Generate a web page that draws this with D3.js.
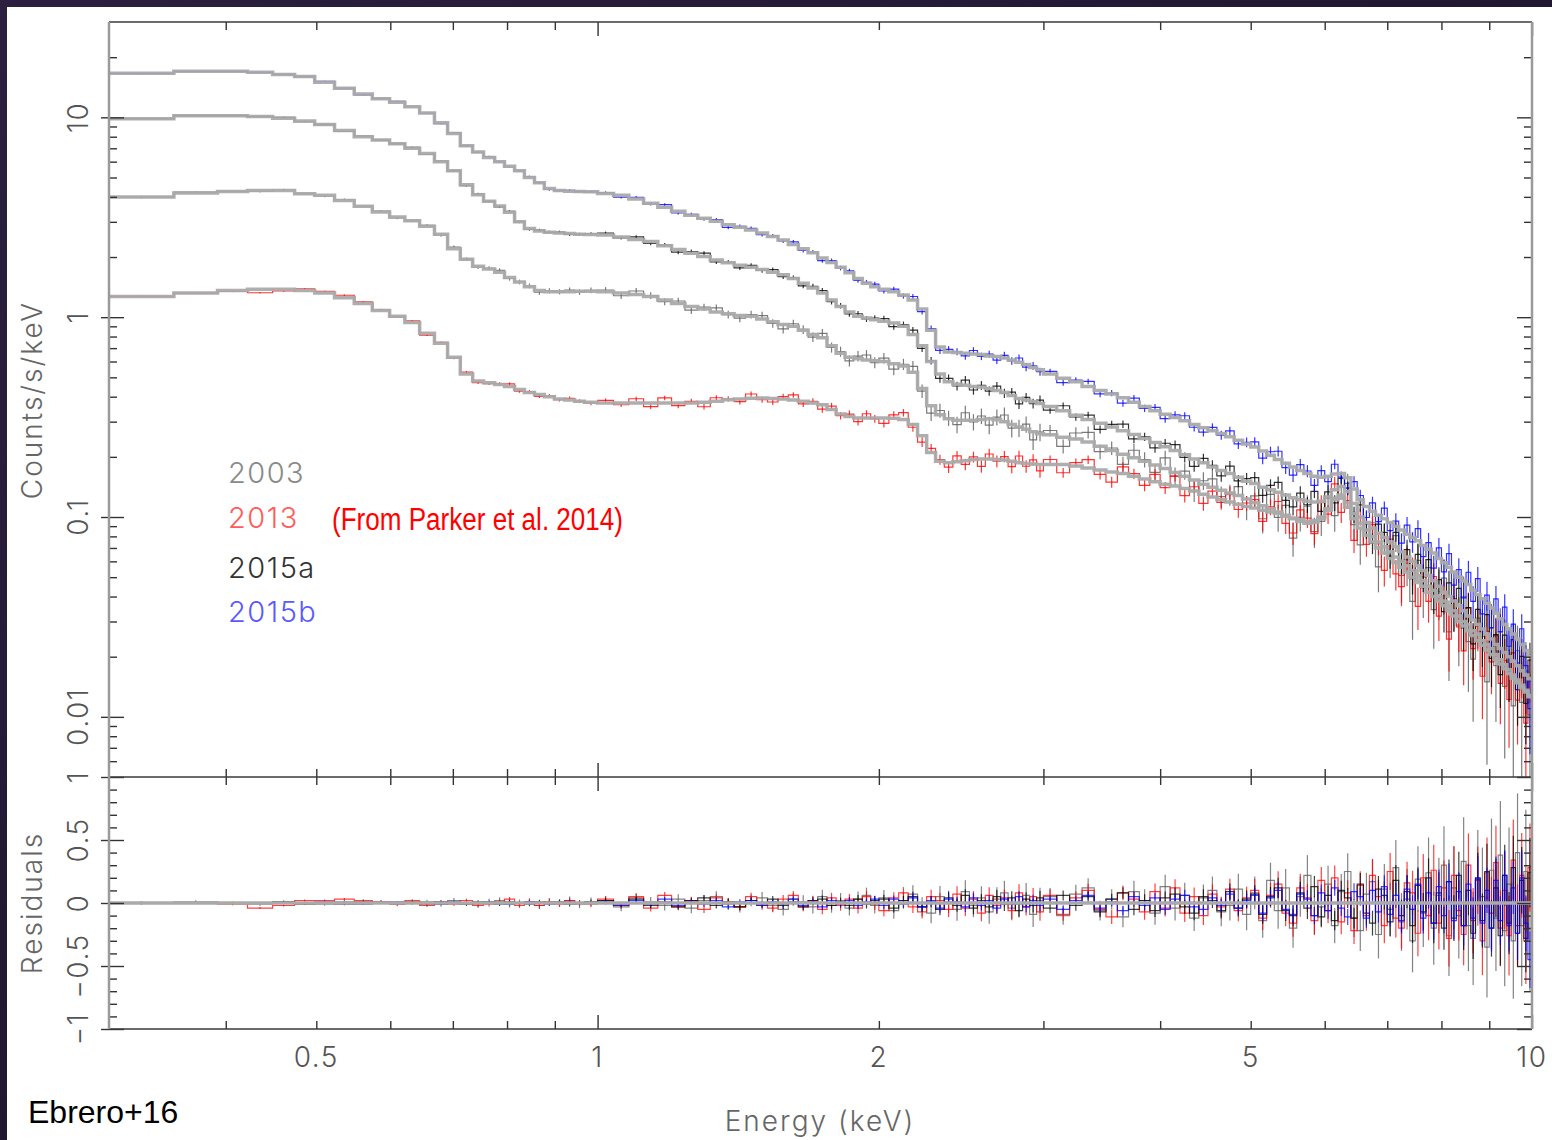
<!DOCTYPE html>
<html>
<head>
<meta charset="utf-8">
<script src="https://cdn.jsdelivr.net/npm/d3@7"></script>
<style>
  html, body { margin: 0; padding: 0; background: #fff; }
  svg { display: block; }
</style>
</head>
<body>
<script>
// energy bin edges (keV), shared by the four spectra
const binEdges = [
  0.30, 0.352, 0.392, 0.422, 0.449, 0.474, 0.498, 0.523, 0.549, 0.574, 0.599, 0.622, 0.645, 0.669, 0.691,
  0.713, 0.735, 0.755, 0.776, 0.795, 0.815, 0.835, 0.856, 0.877, 0.899, 0.922, 0.945, 0.968, 1.00,
  1.04, 1.08, 1.12, 1.16, 1.20, 1.24, 1.28, 1.32, 1.36, 1.40, 1.44, 1.48, 1.52, 1.56, 1.60, 1.64, 1.68,
  1.72, 1.76, 1.80, 1.84, 1.88, 1.92, 1.96, 2.00,
  2.05, 2.10, 2.15, 2.20, 2.25, 2.30, 2.35, 2.40, 2.45, 2.50, 2.55, 2.60, 2.65, 2.70, 2.75, 2.80, 2.85,
  2.90, 2.95, 3.00,
  3.1, 3.2, 3.3, 3.4, 3.5, 3.6, 3.7, 3.8, 3.9, 4.0, 4.1, 4.2, 4.3, 4.4, 4.5, 4.6, 4.7, 4.8, 4.9, 5.0,
  5.1, 5.2, 5.3, 5.4, 5.5, 5.6, 5.7, 5.8, 5.9, 6.0, 6.1, 6.2, 6.3, 6.4, 6.5, 6.6, 6.7, 6.8, 6.9, 7.0,
  7.1, 7.2, 7.3, 7.4, 7.5, 7.6, 7.7, 7.8, 7.9, 8.0, 8.1, 8.2, 8.3, 8.4, 8.5, 8.6, 8.7, 8.8, 8.9, 9.0,
  9.1, 9.2, 9.3, 9.4, 9.5, 9.6, 9.7, 9.8, 9.9, 10.0
];

// best-fit model, counts/s/keV, one value per bin
const model2003 = [
  3.99, 4.18, 4.26, 4.30, 4.30, 4.15, 4.07, 3.84, 3.59, 3.36, 3.17, 3.04, 2.85, 2.60, 2.20, 1.95, 1.80, 1.74,
  1.68, 1.58, 1.50, 1.42, 1.36, 1.34, 1.34, 1.34, 1.35, 1.35,
  1.34, 1.32, 1.30, 1.27, 1.22, 1.17, 1.13, 1.10, 1.06, 1.04, 1.02, 1.01, 0.98, 0.95, 0.92, 0.90, 0.86, 0.82,
  0.79, 0.72, 0.66, 0.63, 0.62, 0.61, 0.605,
  0.60, 0.585, 0.57, 0.53, 0.44, 0.36, 0.325, 0.31, 0.305, 0.305, 0.305, 0.308, 0.31, 0.307, 0.30, 0.29,
  0.282, 0.275, 0.267, 0.261,
  0.258, 0.251, 0.246, 0.237, 0.226, 0.215, 0.206, 0.198, 0.19, 0.182, 0.175, 0.167, 0.16, 0.153, 0.146,
  0.141, 0.136, 0.132, 0.128, 0.123,
  0.118, 0.114, 0.11, 0.106, 0.102, 0.098, 0.095, 0.093, 0.094, 0.098, 0.108, 0.124, 0.129, 0.118, 0.104,
  0.093, 0.086, 0.08, 0.075, 0.071, 0.067, 0.063, 0.06, 0.057, 0.054, 0.051, 0.048, 0.045, 0.043, 0.04,
  0.038, 0.036, 0.034, 0.032, 0.03, 0.029, 0.027, 0.026, 0.024, 0.023, 0.022, 0.0205, 0.0193, 0.0182,
  0.0172, 0.0162, 0.0153, 0.0144, 0.0136, 0.0128
];
const model2013 = [
  1.27, 1.32, 1.36, 1.38, 1.38, 1.36, 1.32, 1.25, 1.17, 1.08, 1.01, 0.94, 0.83, 0.74, 0.63, 0.52, 0.48, 0.47,
  0.46, 0.45, 0.435, 0.42, 0.41, 0.40, 0.39, 0.385, 0.38, 0.375,
  0.372, 0.372, 0.372, 0.372, 0.372, 0.372, 0.372, 0.375, 0.38, 0.386, 0.39, 0.393, 0.394, 0.392, 0.389,
  0.385, 0.38, 0.372, 0.365, 0.345, 0.328, 0.318, 0.313, 0.313, 0.313,
  0.313, 0.312, 0.308, 0.29, 0.255, 0.21, 0.19, 0.187, 0.189, 0.191, 0.194, 0.195, 0.195, 0.194, 0.193,
  0.19, 0.187, 0.185, 0.184, 0.183,
  0.183, 0.183, 0.18, 0.176, 0.172, 0.168, 0.165, 0.16, 0.155, 0.15, 0.146, 0.143, 0.139, 0.135, 0.13,
  0.126, 0.122, 0.119, 0.116, 0.113,
  0.111, 0.108, 0.106, 0.104, 0.101, 0.099, 0.097, 0.095, 0.096, 0.1, 0.11, 0.122, 0.124, 0.112, 0.098,
  0.088, 0.081, 0.075, 0.07, 0.066, 0.062, 0.059, 0.056, 0.053, 0.05, 0.047, 0.045, 0.042, 0.04, 0.038,
  0.036, 0.034, 0.032, 0.03, 0.0285, 0.027, 0.0255, 0.024, 0.0228, 0.0216, 0.0205, 0.0194, 0.0184, 0.0174,
  0.0165, 0.0156, 0.0148, 0.014, 0.0133, 0.0126
];
const model2015a = [
  9.83, 10.2, 10.2, 10.1, 9.9, 9.6, 9.2, 8.6, 8.0, 7.7, 7.37, 7.0, 6.6, 6.0, 5.4, 4.6, 4.1, 3.8, 3.6, 3.35,
  3.0, 2.78, 2.70, 2.66, 2.64, 2.62, 2.60, 2.59,
  2.58, 2.52, 2.45, 2.39, 2.28, 2.18, 2.09, 2.01, 1.93, 1.87, 1.82, 1.78, 1.73, 1.68, 1.63, 1.56, 1.48,
  1.40, 1.32, 1.22, 1.13, 1.06, 1.01, 0.99, 0.97,
  0.955, 0.935, 0.90, 0.82, 0.72, 0.60, 0.52, 0.475, 0.462, 0.457, 0.45, 0.447, 0.44, 0.43, 0.42, 0.405,
  0.392, 0.385, 0.377, 0.37,
  0.357, 0.34, 0.323, 0.308, 0.295, 0.282, 0.27, 0.259, 0.247, 0.236, 0.225, 0.215, 0.205, 0.195, 0.187,
  0.178, 0.171, 0.165, 0.158, 0.151,
  0.147, 0.141, 0.137, 0.133, 0.129, 0.125, 0.122, 0.12, 0.119, 0.12, 0.126, 0.137, 0.142, 0.134, 0.117,
  0.1, 0.094, 0.088, 0.083, 0.079, 0.075, 0.071, 0.067, 0.063, 0.06, 0.057, 0.054, 0.051, 0.048, 0.045,
  0.042, 0.04, 0.038, 0.036, 0.034, 0.032, 0.0305, 0.029, 0.0275, 0.026, 0.0245, 0.023, 0.022, 0.021,
  0.02, 0.019, 0.018, 0.017, 0.0162, 0.0155
];
const model2015b = [
  16.6, 17.0, 17.0, 16.8, 16.4, 16.0, 15.0, 14.0, 13.1, 12.4, 11.9, 11.3, 10.5, 9.4, 8.3, 7.2, 6.7, 6.3,
  6.0, 5.7, 5.4, 5.0, 4.7, 4.4, 4.3, 4.27, 4.25, 4.24,
  4.16, 4.07, 3.90, 3.72, 3.55, 3.39, 3.24, 3.13, 3.02, 2.90, 2.82, 2.73, 2.64, 2.53, 2.43, 2.31, 2.20,
  2.10, 1.98, 1.88, 1.78, 1.67, 1.56, 1.48, 1.42,
  1.38, 1.34, 1.29, 1.22, 1.10, 0.86, 0.71, 0.67, 0.665, 0.66, 0.655, 0.65, 0.64, 0.635, 0.625, 0.61,
  0.595, 0.58, 0.56, 0.545,
  0.52, 0.495, 0.475, 0.45, 0.43, 0.413, 0.395, 0.375, 0.357, 0.34, 0.327, 0.315, 0.303, 0.29, 0.28,
  0.27, 0.262, 0.252, 0.242, 0.232,
  0.224, 0.214, 0.204, 0.194, 0.186, 0.178, 0.171, 0.165, 0.16, 0.158, 0.16, 0.164, 0.165, 0.157, 0.138,
  0.122, 0.113, 0.107, 0.102, 0.098, 0.094, 0.09, 0.086, 0.082, 0.079, 0.076, 0.072, 0.069, 0.066, 0.062,
  0.059, 0.056, 0.053, 0.05, 0.048, 0.046, 0.043, 0.041, 0.039, 0.037, 0.035, 0.033, 0.031, 0.029,
  0.0275, 0.026, 0.0245, 0.023, 0.0215, 0.02
];

// residuals (data - model) / model, in hundredths, one per bin
const resid2003 = [
  0, 1, 0, -1, 1, 0, -1, 1, 0, 1, -1, 0, 1, -1, 2, 0, -1, 1, 2, -1, 0, 1, -2, 1, 0, 2, -1, 1,
  2, -3, 4, 1, -2, 3, -4, 2, 5, -1, -3, 2, 4, -2, -5, 3, 1, -3, 5, -2, 2, -4, 3, 6, -2,
  4, -6, 2, 7, -3, -8, 5, 1, -5, 9, -2, 4, -7, 3, 8, -4, -1, 6, -9, 2,
  5, -10, 7, 12, -6, 3, -11, 9, 2, -8, 13, -4, 6, -12, 4, 10, -7, -2, 11, -9,
  8, -14, 18, -6, 12, -20, 5, 22, -10, -3, 15, -18, 9, 25, -12, -22, 7, 17, -25, 11,
  -5, 28, -15, 3, -30, 19, -8, 24, -20, 6, 30, -26, 12, -10, 33, -18, -28, 20, 5, -35,
  26, -12, 38, -22, 15, -30, 40, -18, 25, -20
];
const resid2013 = [
  0, 0, -1, -4, -2, 2, 2, 3, 2, 1, -1, 2, -2, 1, -1, 2, -2, -1, 1, 3, -2, 1, -2, 1, -1, 2, 0, -1,
  3, -2, 5, -4, 6, -3, 2, -5, 4, 1, -3, 5, -2, -4, 3, 6, -3, 2, -5, 4, -2, 3, -4, 5, -1,
  -6, 4, 8, -3, -7, 5, 2, -5, 7, -4, 3, -8, 6, -2, 4, -6, 8, -3, 5, -7,
  6, -9, 4, 10, -5, -11, 8, 3, -7, 9, -4, 12, -8, 5, -10, 7, -3, 11, -6, 4,
  10, -12, 6, 15, -8, -16, 12, 4, -14, 18, -6, 20, -15, 8, -22, 14, -10, 22, 5, -18,
  25, -12, -20, 16, 8, -24, 20, -10, 26, -16, 12, -28, 22, -6, -25, 30, -14, 18, -30, 24,
  -8, 32, -20, 10, -26, 34, -18, 22, -30, 28
];
const resid2015a = [
  0, 0, 0, 0, 1, -1, 0, -1, 1, 0, 0, 1, -1, 1, 0, -1, 1, 0, -1, 1, 0, -1, 1, 0, 1, -1, 0, 1,
  2, -1, 3, -2, 1, -3, 2, 4, -2, 1, -3, 2, -1, 3, -2, 1, -3, 2, 3, -2, 1, -2, 3, -1, 2,
  3, -4, 2, 5, -3, 1, -5, 4, -2, 6, -4, 2, -3, 5, -1, 4, -6, 3, -2, 4,
  -4, 6, -2, 5, -7, 3, 8, -5, 2, -6, 4, 7, -3, -8, 5, 2, -6, 9, -4, 3,
  7, -9, 5, 12, -6, -10, 8, -4, 13, -11, 6, -14, 10, 4, -12, 15, -8, -16, 11, 6,
  -15, 18, -10, 9, -18, 14, -7, 20, -16, 8, -20, 17, -12, 22, -18, 10, -24, 19, -14, 25,
  -20, 12, -26, 22, -16, 28, -24, 18, -28, 24
];
const resid2015b = [
  0, 0, 0, 0, 0, 0, 1, 0, -1, 0, 1, 0, 0, -1, 1, 0, 0, 1, 0, -1, 0, 1, 0, -1, 0, 1, 0, 0,
  1, -2, 2, -1, 3, -2, 1, -1, 2, -3, 1, 2, -2, 1, -1, 3, -2, 1, -3, 2, -1, 2, -2, 1, 3,
  -2, 3, -1, 4, -3, 2, -4, 3, 1, -3, 4, -2, 2, -4, 3, -1, 5, -3, 2, -2,
  3, -5, 2, 6, -4, 1, -6, 5, -2, 4, -5, 3, 6, -3, -5, 4, -2, 7, -4, 2,
  6, -8, 4, 10, -5, -9, 7, 3, -10, 8, -6, 12, -4, -11, 9, 5, -12, 10, -7, 13,
  -9, 6, -14, 11, -5, 15, -12, 8, -16, 13, -10, 17, -14, 9, -18, 15, -12, 20, -16, 10,
  -20, 18, -14, 22, -18, 12, -24, 20, -16, -45
];

// 1-sigma relative error per bin for the 2003 spectrum (percent)
const relErr = [
  1.5, 1.2, 1.2, 1.2, 1.2, 1.2, 1.2, 1.3, 1.3, 1.4, 1.5, 1.5, 1.6, 1.7, 1.9, 2.1, 2.3, 2.4, 2.5, 2.6,
  2.7, 2.8, 2.9, 3, 3, 3.1, 3.2, 3.3,
  3.5, 3.6, 3.7, 3.8, 3.9, 4, 4.1, 4.2, 4.3, 4.4, 4.5, 4.6, 4.7, 4.8, 4.9, 5, 5.1, 5.3, 5.5, 5.7,
  5.9, 6, 6.1, 6.2, 6.3,
  6.4, 6.5, 6.6, 7, 7.5, 8, 8.5, 8.8, 9, 9.1, 9.2, 9.3, 9.4, 9.5, 9.6, 9.7, 9.8, 9.9, 10, 10.2,
  7, 7.2, 7.4, 7.6, 7.8, 8, 8.3, 8.6, 8.9, 9.2, 9.5, 9.8, 10, 10.3, 10.6, 11, 11.4, 11.8, 12.2, 12.6,
  13, 13.5, 14, 14.5, 15, 15.5, 16, 16, 15.5, 15, 14.5, 14, 14, 14.5, 15, 16, 17, 18, 19, 20,
  21, 22, 23, 24, 25, 26, 27, 28, 29, 30, 31, 32, 33, 34, 35, 36, 37, 38, 39, 40,
  41, 42, 43, 44, 45, 46, 47, 48, 49, 50
];
// error size of each observation relative to 2003
const errScale = [1, 0.7, 0.55, 0.45];

const seriesNames = ['2003', '2013', '2015a', '2015b'];
const seriesColors = ['#5a5a5a', '#ff0000', '#000000', '#0000ff'];
const legendColors = ['#8a8a8a', '#ff5c5c', '#333333', '#5a5aff'];

// axis ticks
const xMajorTicks = [1, 10];
const xMinorTicks = [0.4, 0.5, 0.6, 0.7, 0.8, 0.9, 2, 3, 4, 5, 6, 7, 8, 9];
const xTickLabels = [0.5, 1, 2, 5, 10];
const yMajorTicks = [0.01, 0.1, 1, 10];
const yMinorTicks = [0.006, 0.007, 0.008, 0.009, 0.02, 0.03, 0.04, 0.05, 0.06, 0.07, 0.08, 0.09,
  0.2, 0.3, 0.4, 0.5, 0.6, 0.7, 0.8, 0.9, 2, 3, 4, 5, 6, 7, 8, 9, 20];
const yTickLabels = ['0.01', '0.1', '1', '10'];
const rMajorTicks = [-1, -0.5, 0, 0.5, 1];
const rMinorTicks = [-0.9, -0.8, -0.7, -0.6, -0.4, -0.3, -0.2, -0.1, 0.1, 0.2, 0.3, 0.4, 0.6, 0.7, 0.8, 0.9];
const rTickLabels = ['\u22121', '\u22120.5', '0', '0.5', '1'];

// layout
const W = 1552;
const H = 1140;
const plotL = 109;
const plotR = 1532;
const plotT = 22;
const plotM = 777;
const plotB = 1029;
const thinFont = 'Inter, Roboto, "Open Sans", sans-serif';

const svg = d3.select('body').append('svg')
  .attr('width', W)
  .attr('height', H);

// dark sky strip round the white page
const defs = svg.append('defs');
const sky = defs.append('linearGradient').attr('id', 'sky')
  .attr('x1', 0).attr('y1', 0).attr('x2', 1).attr('y2', 1);
sky.append('stop').attr('offset', '0%').attr('stop-color', '#2c1f3f');
sky.append('stop').attr('offset', '100%').attr('stop-color', '#150e24');
svg.append('rect').attr('width', W).attr('height', H).attr('fill', 'url(#sky)');
svg.append('rect').attr('x', 7).attr('y', 7).attr('width', W - 7).attr('height', H - 7).attr('fill', '#fff');

defs.append('clipPath').attr('id', 'clipTop')
  .append('rect').attr('x', plotL).attr('y', plotT).attr('width', plotR - plotL).attr('height', plotM - plotT);
defs.append('clipPath').attr('id', 'clipRes')
  .append('rect').attr('x', plotL).attr('y', plotM).attr('width', plotR - plotL).attr('height', plotB - plotM);

// scales
const x = d3.scaleLog().domain([0.3, 10]).range([plotL, plotR]);
const y = d3.scaleLog().domain([0.005, 30]).range([plotM, plotT]);
const yr = d3.scaleLinear().domain([-1, 1]).range([plotB, plotM]);

// bins and derived points
const bins = binEdges.slice(0, -1).map((lo, i) => ({ lo, hi: binEdges[i + 1], mid: Math.sqrt(lo * binEdges[i + 1]) }));
const models = [model2003, model2013, model2015a, model2015b];
const resids = [resid2003, resid2013, resid2015a, resid2015b];

const series = seriesNames.map((name, k) => ({
  name,
  color: seriesColors[k],
  points: bins.map((b, i) => {
    const m = models[k][i];
    const r = resids[k][i] / 100;
    const e = (relErr[i] / 100) * errScale[k];
    return {
      lo: b.lo, hi: b.hi, mid: b.mid, model: m, r, e,
      data: m * (1 + r),
      dLo: m * Math.max(1 + r - e, 0.001),
      dHi: m * (1 + r + e),
    };
  }),
}));

// step path through bin edges
const stepPoints = (pts, key) => {
  const arr = pts.map((p) => ({ e: p.lo, v: p[key] }));
  arr.push({ e: pts[pts.length - 1].hi, v: pts[pts.length - 1][key] });
  return arr;
};
const stepTop = d3.line().curve(d3.curveStepAfter).x((d) => x(d.e)).y((d) => y(d.v));
const stepRes = d3.line().curve(d3.curveStepAfter).x((d) => x(d.e)).y((d) => yr(d.v));

// top panel: data, then models on top
const gTop = svg.append('g').attr('clip-path', 'url(#clipTop)');
series.forEach((s) => {
  const g = gTop.append('g').attr('stroke', s.color).attr('stroke-opacity', 0.8).attr('fill', 'none');
  g.append('path').attr('d', stepTop(stepPoints(s.points, 'data'))).attr('stroke-width', 1.2);
  g.selectAll('line').data(s.points).join('line')
    .attr('x1', (d) => x(d.mid)).attr('x2', (d) => x(d.mid))
    .attr('y1', (d) => y(d.dLo)).attr('y2', (d) => y(d.dHi))
    .attr('stroke-width', 1.2);
});
series.forEach((s) => {
  gTop.append('path')
    .attr('d', stepTop(stepPoints(s.points, 'model')))
    .attr('fill', 'none')
    .attr('stroke', '#aaaaaa')
    .attr('stroke-width', 3.5)
    .attr('stroke-opacity', 0.95);
});

// residual panel
const gRes = svg.append('g').attr('clip-path', 'url(#clipRes)');
series.forEach((s) => {
  const g = gRes.append('g').attr('stroke', s.color).attr('stroke-opacity', 0.75).attr('fill', 'none');
  g.append('path').attr('d', stepRes(stepPoints(s.points, 'r'))).attr('stroke-width', 1.2);
  g.selectAll('line').data(s.points).join('line')
    .attr('x1', (d) => x(d.mid)).attr('x2', (d) => x(d.mid))
    .attr('y1', (d) => yr(d.r - d.e)).attr('y2', (d) => yr(d.r + d.e))
    .attr('stroke-width', 1.2);
});
gRes.append('line')
  .attr('x1', x(0.3)).attr('x2', x(10))
  .attr('y1', yr(0)).attr('y2', yr(0))
  .attr('stroke', '#aaaaaa')
  .attr('stroke-width', 3.5);

// ticks (no labels; labels drawn separately)
const ticks = (axis, tx, ty) => {
  const g = svg.append('g').attr('transform', `translate(${tx},${ty})`).call(axis);
  g.select('.domain').remove();
  g.selectAll('text').remove();
  g.selectAll('line').attr('stroke', '#333').attr('stroke-width', 1.4);
  return g;
};
ticks(d3.axisBottom(x).tickValues(xMinorTicks).tickSize(8), 0, plotT);
ticks(d3.axisBottom(x).tickValues(xMajorTicks).tickSize(14), 0, plotT);
ticks(d3.axisTop(x).tickValues(xMinorTicks).tickSize(8), 0, plotM);
ticks(d3.axisTop(x).tickValues(xMajorTicks).tickSize(14), 0, plotM);
ticks(d3.axisBottom(x).tickValues(xMinorTicks).tickSize(8), 0, plotM);
ticks(d3.axisBottom(x).tickValues(xMajorTicks).tickSize(14), 0, plotM);
ticks(d3.axisTop(x).tickValues(xMinorTicks).tickSize(8), 0, plotB);
ticks(d3.axisTop(x).tickValues(xMajorTicks).tickSize(14), 0, plotB);

ticks(d3.axisRight(y).tickValues(yMinorTicks).tickSize(8), plotL, 0);
ticks(d3.axisRight(y).tickValues(yMajorTicks).tickSize(23), plotL - 8, 0);
ticks(d3.axisLeft(y).tickValues(yMinorTicks).tickSize(8), plotR, 0);
ticks(d3.axisLeft(y).tickValues(yMajorTicks).tickSize(15), plotR, 0);
ticks(d3.axisRight(yr).tickValues(rMinorTicks).tickSize(8), plotL, 0);
ticks(d3.axisRight(yr).tickValues(rMajorTicks).tickSize(23), plotL - 8, 0);
ticks(d3.axisLeft(yr).tickValues(rMinorTicks).tickSize(8), plotR, 0);
ticks(d3.axisLeft(yr).tickValues(rMajorTicks).tickSize(15), plotR, 0);

// frame
const frame = svg.append('g').attr('fill', 'none');
[plotT, plotM, plotB].forEach((yy) => {
  frame.append('line').attr('x1', plotL).attr('x2', plotR).attr('y1', yy).attr('y2', yy)
    .attr('stroke', '#3a3a3a').attr('stroke-width', 1.5);
});
[plotL, plotR].forEach((xx) => {
  frame.append('line').attr('x1', xx).attr('x2', xx).attr('y1', plotT).attr('y2', plotB)
    .attr('stroke', '#9a9a9a').attr('stroke-width', 2.5);
});

// tick labels
const labels = svg.append('g')
  .attr('font-family', thinFont)
  .attr('font-weight', 300)
  .attr('fill', '#555')
  .attr('font-size', 28)
  .attr('letter-spacing', 1.5);
labels.selectAll('text.xl').data(xTickLabels).join('text')
  .attr('class', 'xl')
  .attr('x', (d) => x(d))
  .attr('y', 1067)
  .attr('text-anchor', 'middle')
  .text((d) => d);
labels.selectAll('text.yl').data(yMajorTicks).join('text')
  .attr('class', 'yl')
  .attr('transform', (d) => `translate(88,${y(d)}) rotate(-90)`)
  .attr('text-anchor', 'middle')
  .text((d, i) => yTickLabels[i]);
labels.selectAll('text.rl').data(rMajorTicks).join('text')
  .attr('class', 'rl')
  .attr('transform', (d) => `translate(88,${yr(d)}) rotate(-90)`)
  .attr('text-anchor', 'middle')
  .text((d, i) => rTickLabels[i]);

// axis titles
const titles = svg.append('g')
  .attr('font-family', thinFont)
  .attr('font-weight', 300)
  .attr('fill', '#666')
  .attr('font-size', 28)
  .attr('letter-spacing', 2);
titles.append('text')
  .attr('transform', 'translate(42,400) rotate(-90)')
  .attr('text-anchor', 'middle')
  .text('Counts/s/keV');
titles.append('text')
  .attr('transform', 'translate(42,903) rotate(-90)')
  .attr('text-anchor', 'middle')
  .text('Residuals');
titles.append('text')
  .attr('x', 820)
  .attr('y', 1131)
  .attr('text-anchor', 'middle')
  .text('Energy (keV)');

// legend
const legendY = [483, 528, 578, 622];
svg.append('g')
  .attr('font-family', thinFont)
  .attr('font-weight', 300)
  .attr('font-size', 29)
  .attr('letter-spacing', 1.5)
  .selectAll('text')
  .data(seriesNames)
  .join('text')
  .attr('x', 228)
  .attr('y', (d, i) => legendY[i])
  .attr('fill', (d, i) => legendColors[i])
  .text((d) => d);

svg.append('text')
  .attr('x', 332)
  .attr('y', 530)
  .attr('font-family', '"Liberation Sans Narrow", "Liberation Sans", Arial, sans-serif')
  .attr('font-size', 31)
  .attr('fill', '#ff0000')
  .attr('textLength', 291)
  .attr('lengthAdjust', 'spacingAndGlyphs')
  .text('(From Parker et al. 2014)');

svg.append('text')
  .attr('x', 28)
  .attr('y', 1123)
  .attr('font-family', '"Liberation Sans", Arial, sans-serif')
  .attr('font-size', 32)
  .attr('fill', '#000')
  .text('Ebrero+16');
</script>
</body>
</html>
